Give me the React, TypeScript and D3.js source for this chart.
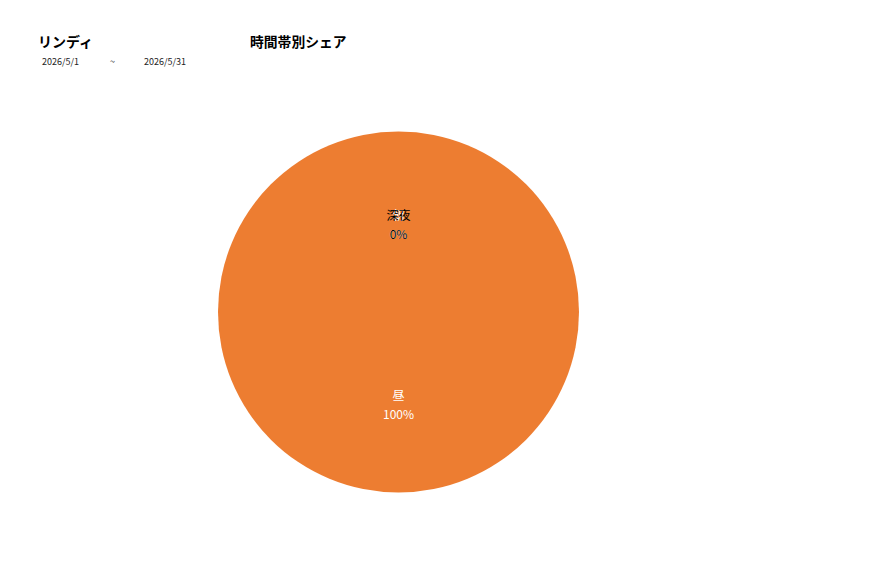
import React, { useEffect, useRef } from 'react';
import * as d3 from 'd3';

const categories = ['朝', '昼', '深夜'];
const shares = [0, 100, 0];
const sliceColors = ['#4472C4', '#ED7D31', '#A5A5A5'];
const labelColors = ['#ffffff', '#ffffff', '#000000'];
const storeName = 'リンディ';
const chartTitle = '時間帯別シェア';
const dateFrom = '2026/5/1';
const dateTo = '2026/5/31';

const FONT = '"Noto Sans CJK JP", "Noto Sans", sans-serif';

export default function App() {
  const svgRef = useRef<SVGSVGElement>(null);

  useEffect(() => {
    if (!svgRef.current) return;
    const svg = d3.select(svgRef.current);
    svg.selectAll('*').remove();

    const width = 877;
    const height = 578;
    svg.attr('width', width).attr('height', height);

    svg.append('rect').attr('width', width).attr('height', height).attr('fill', '#fff');

    // Header
    svg.append('text')
      .attr('x', 38).attr('y', 47)
      .attr('font-family', FONT).attr('font-size', 14).attr('font-weight', 'bold')
      .attr('fill', '#000')
      .text(storeName);

    svg.append('text')
      .attr('x', 250).attr('y', 47)
      .attr('font-family', FONT).attr('font-size', 13.8).attr('font-weight', 'bold')
      .attr('fill', '#000')
      .text(chartTitle);

    const dateRow = svg.append('g')
      .attr('font-family', FONT).attr('font-size', 9).attr('fill', '#222');
    dateRow.append('text').attr('x', 42).attr('y', 65).text(dateFrom);
    dateRow.append('text').attr('x', 110).attr('y', 65).text('~');
    dateRow.append('text').attr('x', 144).attr('y', 65).text(dateTo);

    // Pie
    const cx = 398.5;
    const cy = 312;
    const radius = 180.5;

    const data = categories.map((c, i) => ({ name: c, value: shares[i], index: i }));

    const pie = d3.pie<{ name: string; value: number; index: number }>()
      .value(d => d.value)
      .sort(null);

    const arcs = pie(data);

    const arc = d3.arc<d3.PieArcDatum<{ name: string; value: number; index: number }>>()
      .innerRadius(0)
      .outerRadius(radius);

    const labelArc = d3.arc<d3.PieArcDatum<{ name: string; value: number; index: number }>>()
      .innerRadius(radius * 0.5)
      .outerRadius(radius * 0.5);

    const g = svg.append('g').attr('transform', `translate(${cx},${cy})`);

    g.selectAll('path')
      .data(arcs)
      .enter()
      .append('path')
      .attr('d', arc)
      .attr('fill', d => sliceColors[d.data.index]);

    const total = d3.sum(shares);

    const labels = g.selectAll('g.label')
      .data(arcs)
      .enter()
      .append('g')
      .attr('class', 'label')
      .attr('transform', d => {
        const [x, y] = labelArc.centroid(d);
        return `translate(${x},${y + 2})`;
      })
      .attr('font-family', FONT)
      .attr('font-size', 12)
      .attr('text-anchor', 'middle')
      .attr('fill', d => labelColors[d.data.index]);

    labels.append('text')
      .attr('y', -4)
      .text(d => d.data.name);

    labels.append('text')
      .attr('y', 15)
      .text(d => `${Math.round((d.data.value / total) * 100)}%`);
  }, []);

  return (
    <div style={{ position: 'absolute', left: 0, top: 0 }}>
      <svg ref={svgRef}></svg>
    </div>
  );
}
